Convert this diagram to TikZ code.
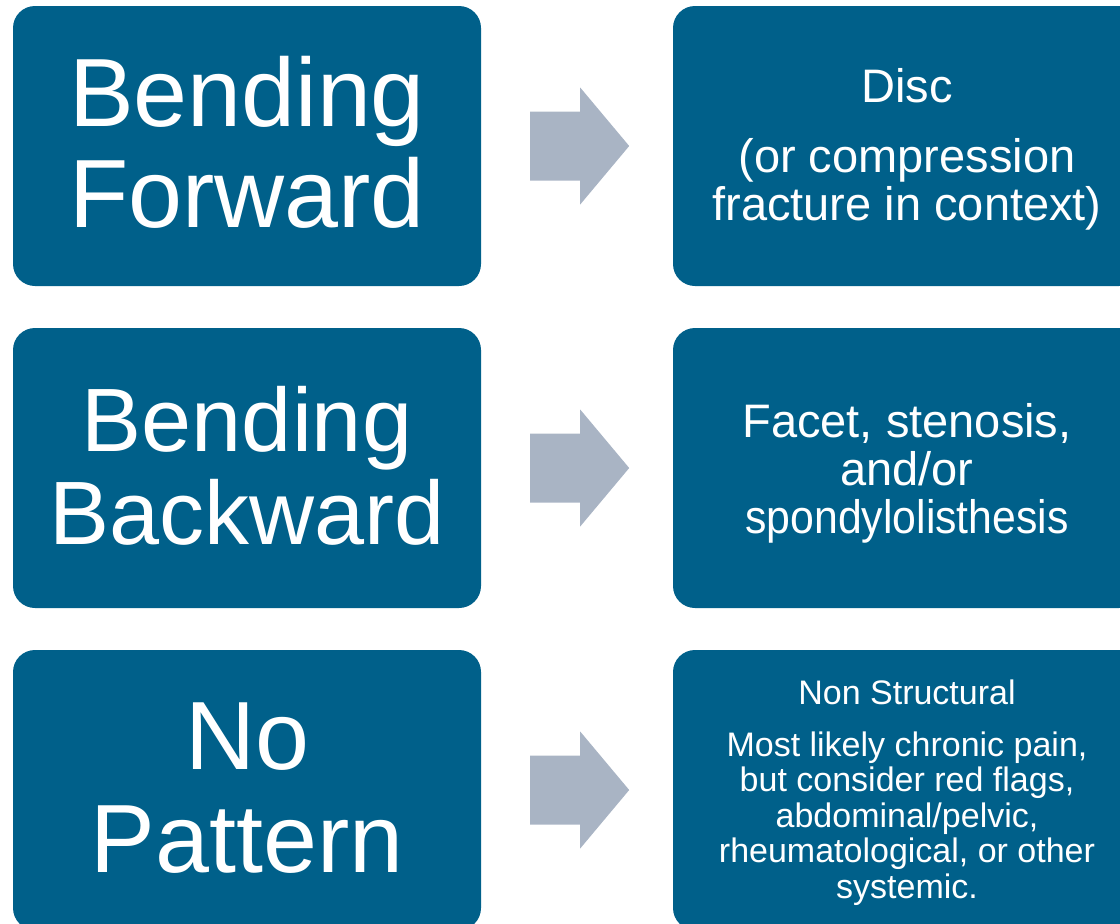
\documentclass[tikz,border=0pt]{standalone}
\usepackage{fontspec}
\setmainfont{Liberation Sans}
\usetikzlibrary{calc}
\definecolor{boxblue}{HTML}{00608A}
\definecolor{arrowgray}{HTML}{A9B4C4}
\tikzset{
  box/.style={fill=boxblue, draw=none, rounded corners=22pt, minimum width=468pt,
    minimum height=280pt, inner sep=0pt},
  label text/.style={text=white, align=center, anchor=base, inner sep=0pt},
  big/.style={label text, font=\fontsize{97}{101}\selectfont},
  bigb/.style={label text, font=\fontsize{97}{103}\selectfont},
  mid/.style={label text, font=\fontsize{90}{93}\selectfont},
  small/.style={label text, font=\fontsize{47}{48}\selectfont},
  smallb/.style={label text, font=\fontsize{47}{48}\selectfont},
  tiny/.style={label text, font=\fontsize{34}{35.5}\selectfont},
  blockarrow/.style={fill=arrowgray, draw=none}
}
\newcommand{\blockarrowfrom}[1]{%
  \fill[blockarrow] ($(#1.east)+(49,-34.5)$) -- ++(50,0) -- ++(0,-24) -- ++(49,58.5)
    -- ++(-49,58.5) -- ++(0,-24) -- ++(-50,0) -- cycle;}
\begin{document}
\begin{tikzpicture}[x=1pt,y=-1pt]
  \useasboundingbox (0,0) rectangle (1120,924);
  \clip (0,0) rectangle (1120,924);
  \node[box] (l1) at (247,146) {};
  \node[box] (l2) at (247,468) {};
  \node[box] (l3) at (247,790) {};
  \node[box] (r1) at (907,146) {};
  \node[box] (r2) at (907,468) {};
  \node[box] (r3) at (907,790) {};
  \node[big] (l1t) at (247,227) {Bending\\Forward};
  \node[mid] (l2t) at (247,544) {Bending\\Backward};
  \node[bigb] (l3t) at (247,872) {No\\Pattern};
  \node[small] (r1t) at (907,220) {Disc\\[22pt](or compression\\fracture in context)};
  \node[smallb] (r2t) at (907,533) {Facet, stenosis,\\and/or\\\scalebox{0.91}[1]{spondylolisthesis}};
  \node[tiny] (r3t) at (907,898) {Non Structural\\[16pt]Most likely chronic pain,\\but consider red flags,\\abdominal/pelvic,\\rheumatological, or other\\systemic.};
  \blockarrowfrom{l1}
  \blockarrowfrom{l2}
  \blockarrowfrom{l3}
\end{tikzpicture}
\end{document}
